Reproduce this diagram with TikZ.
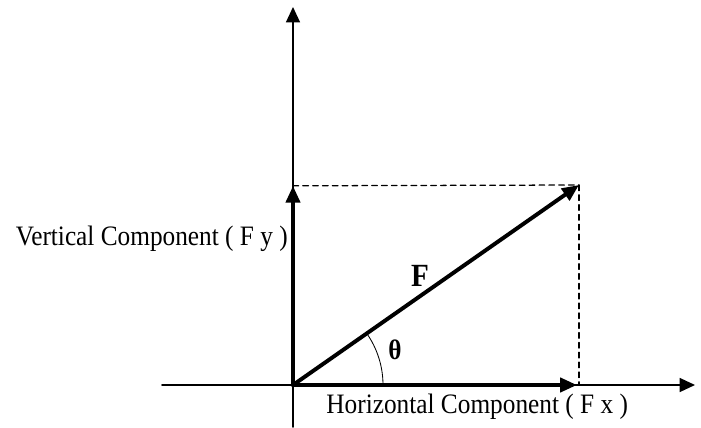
\documentclass[tikz,border=0pt]{standalone}
\usepackage{fontspec}
\setmainfont{Liberation Serif}[FakeStretch=0.9]
\usetikzlibrary{arrows.meta,calc}
\usepackage{tkz-euclide}

\begin{document}
\begin{tikzpicture}[
  axisline/.style={line width=1.1pt,-{Triangle[length=11pt,width=10pt]}},
  compline/.style={line width=2.8pt,-{Triangle[length=12pt,width=10pt]}},
  guideline/.style={line width=0.9pt,dash pattern=on 4pt off 3pt},
  every node/.style={font=\fontsize{20}{24}\selectfont,inner sep=0pt}]
\useasboundingbox (-7.325,-1.05) rectangle (10.2,9.625);

\tkzDefPoints{0/0/O,-3.275/0/Xs,10.05/0/Xe,0/-1.05/Ys,0/9.45/Ye}
\tkzDefPoints{7.1/0/Fx,0/4.98/Fy,7.15/5/F,7.15/0/Fb}

% axes
\tkzDrawSegments[axisline](Xs,Xe Ys,Ye)
% completing the rectangle
\tkzDrawSegments[guideline](Fy,F F,Fb)
% force and its components
\tkzDrawSegments[compline](O,Fx O,Fy O,F)
\tkzMarkAngle[line width=0.6pt,size=2.25](Fx,O,F)

\node[anchor=east] (vlab) at (-0.12,3.65) {Vertical Component ( F y )};
\node[anchor=west] (hlab) at (0.825,-0.55) {Horizontal Component ( F x )};
\node[font=\fontsize{23}{27}\selectfont\bfseries] (flab) at (3.175,2.725) {F};
\node[font=\fontsize{20}{24}\selectfont\bfseries] (thlab) at (2.55,0.875) {θ};

\end{tikzpicture}
\end{document}
